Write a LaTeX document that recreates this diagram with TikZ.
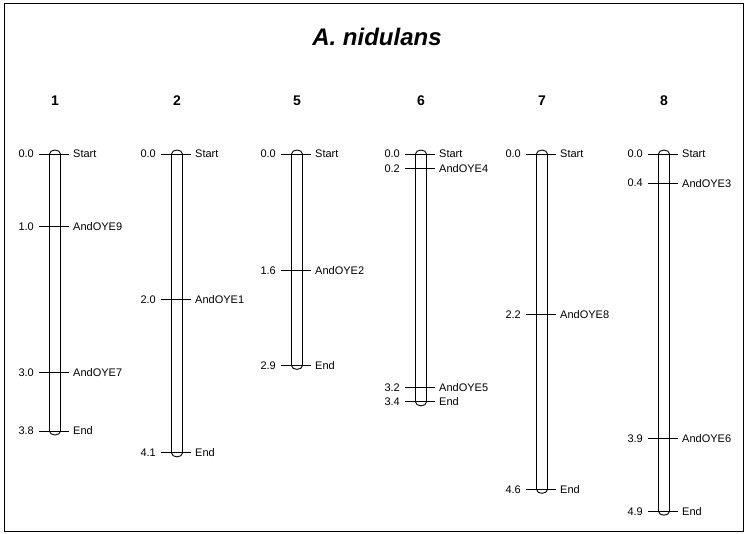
\documentclass[tikz,border=0pt]{standalone}
\usepackage{fontspec}
\setmainfont{Liberation Sans}
\newcommand\drawchrom[5]{%
  \node[hdr] (h#1) at (#2,101) {#3};
  \draw[bar] ({#2-5.5},154) arc[start angle=180,end angle=360,x radius=5.5,y radius=4]
    -- ({#2+5.5},{154+#4*72.9}) arc[start angle=0,end angle=180,x radius=5.5,y radius=4] -- cycle;
  \foreach \p/\l [count=\i] in {#5}{%
    \coordinate (t#1-\i) at (#2,{154+\p*72.9});
    \draw[tick] ([xshift=-16pt]t#1-\i) -- ([xshift=14pt]t#1-\i);
    \node[lbl,anchor=east] (p#1-\i) at ([xshift=-21pt]t#1-\i) {\p};
    \node[lbl,anchor=west] (l#1-\i) at ([xshift=18pt]t#1-\i) {\l};
  }%
}
\begin{document}
\begin{tikzpicture}[x=1pt,y=-1pt,
  lbl/.style={font=\fontsize{11}{13}\selectfont, inner sep=0pt},
  hdr/.style={font=\fontsize{14}{16}\selectfont\bfseries, inner sep=0pt},
  bar/.style={line width=0.9pt},
  tick/.style={line width=0.9pt}]
\useasboundingbox (0,0) rectangle (746,533);
\draw[line width=1pt] (4,3) rectangle (743,531);
\node[font=\fontsize{24}{28}\selectfont\bfseries\itshape] (title) at (377,37) {A. nidulans};
\drawchrom{a}{55}{1}{3.8}{0.0/Start,1.0/AndOYE9,3.0/AndOYE7,3.8/End}
\drawchrom{b}{177}{2}{4.1}{0.0/Start,2.0/AndOYE1,4.1/End}
\drawchrom{c}{297}{5}{2.9}{0.0/Start,1.6/AndOYE2,2.9/End}
\drawchrom{d}{421}{6}{3.4}{0.0/Start,0.2/AndOYE4,3.2/AndOYE5,3.4/End}
\drawchrom{e}{542}{7}{4.6}{0.0/Start,2.2/AndOYE8,4.6/End}
\drawchrom{f}{664}{8}{4.9}{0.0/Start,0.4/AndOYE3,3.9/AndOYE6,4.9/End}
\end{tikzpicture}
\end{document}
